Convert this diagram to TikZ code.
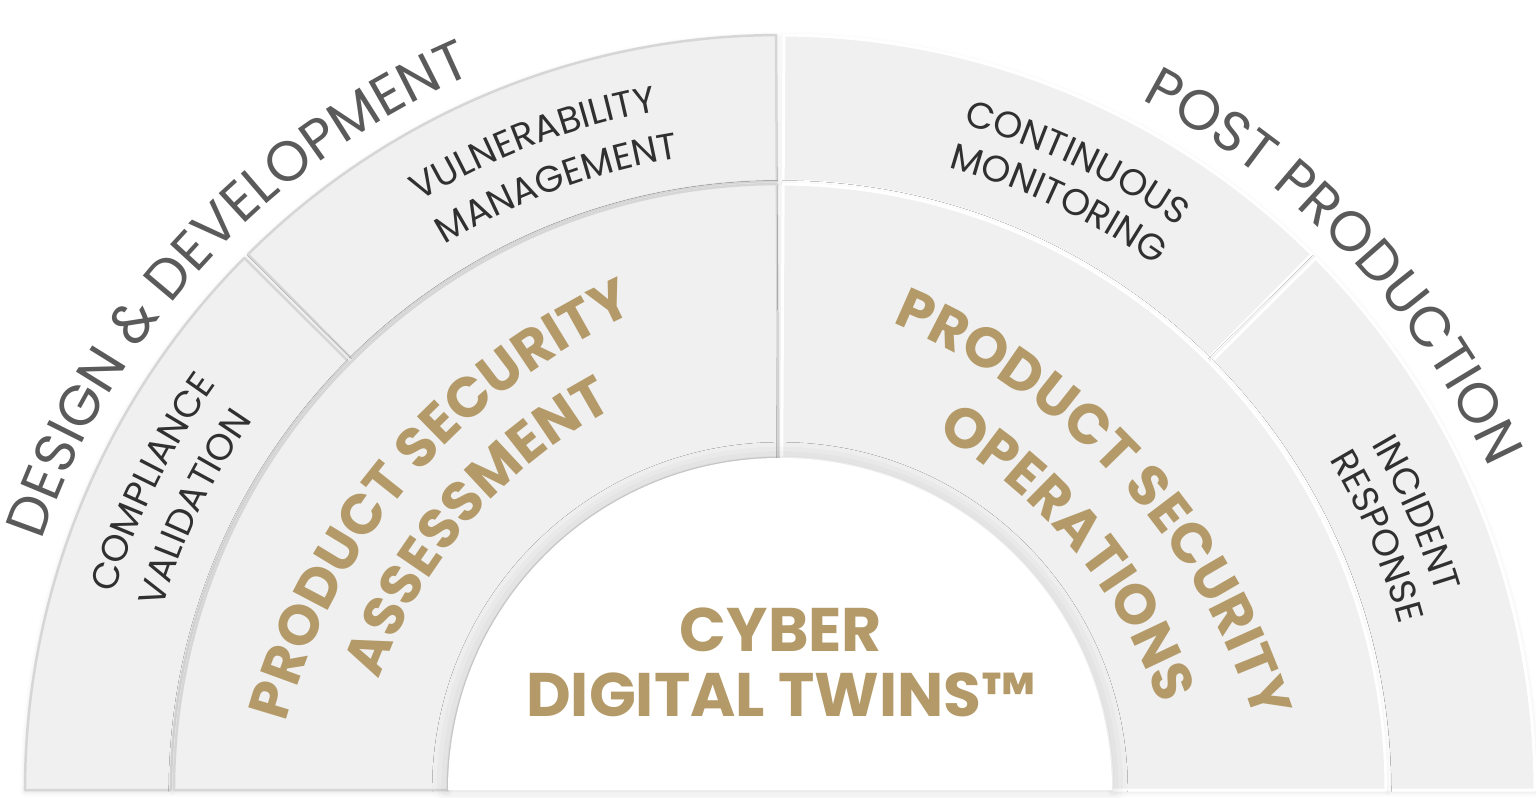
\documentclass[tikz,border=0pt]{standalone}
\usepackage{fontspec}
\setmainfont{Poppins}
\usetikzlibrary{decorations.text,shadows.blur}

\definecolor{ringfill}{HTML}{F0F0F0}
\definecolor{ringline}{HTML}{D6D6D6}
\definecolor{gold}{HTML}{B39A68}
\definecolor{phasegray}{HTML}{5A5A5A}
\definecolor{taskgray}{HTML}{303030}

\begin{document}
\begin{tikzpicture}[
    x=0.2mm, y=0.2mm,
    leftseg/.style={fill=ringfill, draw=ringline, line width=0.5mm, line join=round,
        blur shadow={shadow xshift=0pt, shadow yshift=-1pt, shadow blur radius=3pt, shadow opacity=12}},
    rightseg/.style={fill=ringfill, draw=white, line width=0.6mm, line join=round,
        blur shadow={shadow xshift=0pt, shadow yshift=-1pt, shadow blur radius=3pt, shadow opacity=12}},
    core/.style={fill=white, blur shadow={shadow xshift=0pt, shadow yshift=0pt, shadow blur radius=9pt, shadow opacity=15}},
    arclabel/.style={decorate, decoration={text along path, text align=center, text={#1}}},
    phase/.style={arclabel={|\fontsize{32}{32}\selectfont\color{phasegray}|#1}},
    task/.style={arclabel={|\fontsize{21}{21}\selectfont\color{taskgray}|#1}},
    service/.style={arclabel={|\fontsize{32}{32}\selectfont\bfseries\color{gold}|#1}},
    coretext/.style={font=\fontsize{35}{37}\selectfont\bfseries, text=gold, align=center},
]
\useasboundingbox (-780,-7) rectangle (756,790);

% Design & development half
\path[leftseg] (90.3:609) -- (90.3:755) arc[start angle=90.3, end angle=134.8, radius=755]
    -- (134.8:609) arc[start angle=134.8, end angle=90.3, radius=609] -- cycle;
\path[leftseg] (135.2:609) -- (135.2:755) arc[start angle=135.2, end angle=180, radius=755]
    -- (180:609) arc[start angle=180, end angle=135.2, radius=609] -- cycle;
\path[leftseg] (90.3:332) -- (90.3:606) arc[start angle=90.3, end angle=180, radius=606]
    -- (180:332) arc[start angle=180, end angle=90.3, radius=332] -- cycle;

% Post production half
\path[rightseg] (45.2:609) -- (45.2:755) arc[start angle=45.2, end angle=89.7, radius=755]
    -- (89.7:609) arc[start angle=89.7, end angle=45.2, radius=609] -- cycle;
\path[rightseg] (0:609) -- (0:755) arc[start angle=0, end angle=44.8, radius=755]
    -- (44.8:609) arc[start angle=44.8, end angle=0, radius=609] -- cycle;
\path[rightseg] (0:332) -- (0:606) arc[start angle=0, end angle=89.7, radius=606]
    -- (89.7:332) arc[start angle=89.7, end angle=0, radius=332] -- cycle;

% Core
\path[core] (0:332) arc[start angle=0, end angle=180, radius=332] -- cycle;
\node[coretext] (cdt) at (1,128) {CYBER\\DIGITAL TWINS™};

% Phase titles
\path[phase={DESIGN {\&} DEVELOPMENT}] (177.3:779) arc[start angle=177.3, end angle=97.3, radius=779];
\path[phase={POST PRODUCTION}] (83.4:779) arc[start angle=83.4, end angle=3.4, radius=779];

% Tasks
\path[task={VULNERABILITY}] (130.9:690) arc[start angle=130.9, end angle=90.9, radius=690];
\path[task={MANAGEMENT}] (130.3:640) arc[start angle=130.3, end angle=90.3, radius=640];
\path[task={COMPLIANCE}] (173.9:694) arc[start angle=173.9, end angle=133.9, radius=694];
\path[task={VALIDATION}] (174.3:644) arc[start angle=174.3, end angle=134.3, radius=644];
\path[task={CONTINUOUS}] (84.7:690) arc[start angle=84.7, end angle=44.7, radius=690];
\path[task={MONITORING}] (84.6:645) arc[start angle=84.6, end angle=44.6, radius=645];
\path[task={INCIDENT}] (43.5:685) arc[start angle=43.5, end angle=3.5, radius=685];
\path[task={RESPONSE}] (43:641) arc[start angle=43, end angle=3, radius=641];

% Services
\path[service={PRODUCT SECURITY}, shift={(319.5:150)}] (174.5:630) arc[start angle=174.5, end angle=104.5, radius=630];
\path[service={ASSESSMENT}, shift={(319:91)}] (174:500) arc[start angle=174, end angle=104, radius=500];
\path[service={PRODUCT SECURITY}, shift={(222.4:172)}] (77.4:630) arc[start angle=77.4, end angle=7.4, radius=630];
\path[service={OPERATIONS}, shift={(219.5:121)}] (74.5:500) arc[start angle=74.5, end angle=4.5, radius=500];

\end{tikzpicture}
\end{document}
